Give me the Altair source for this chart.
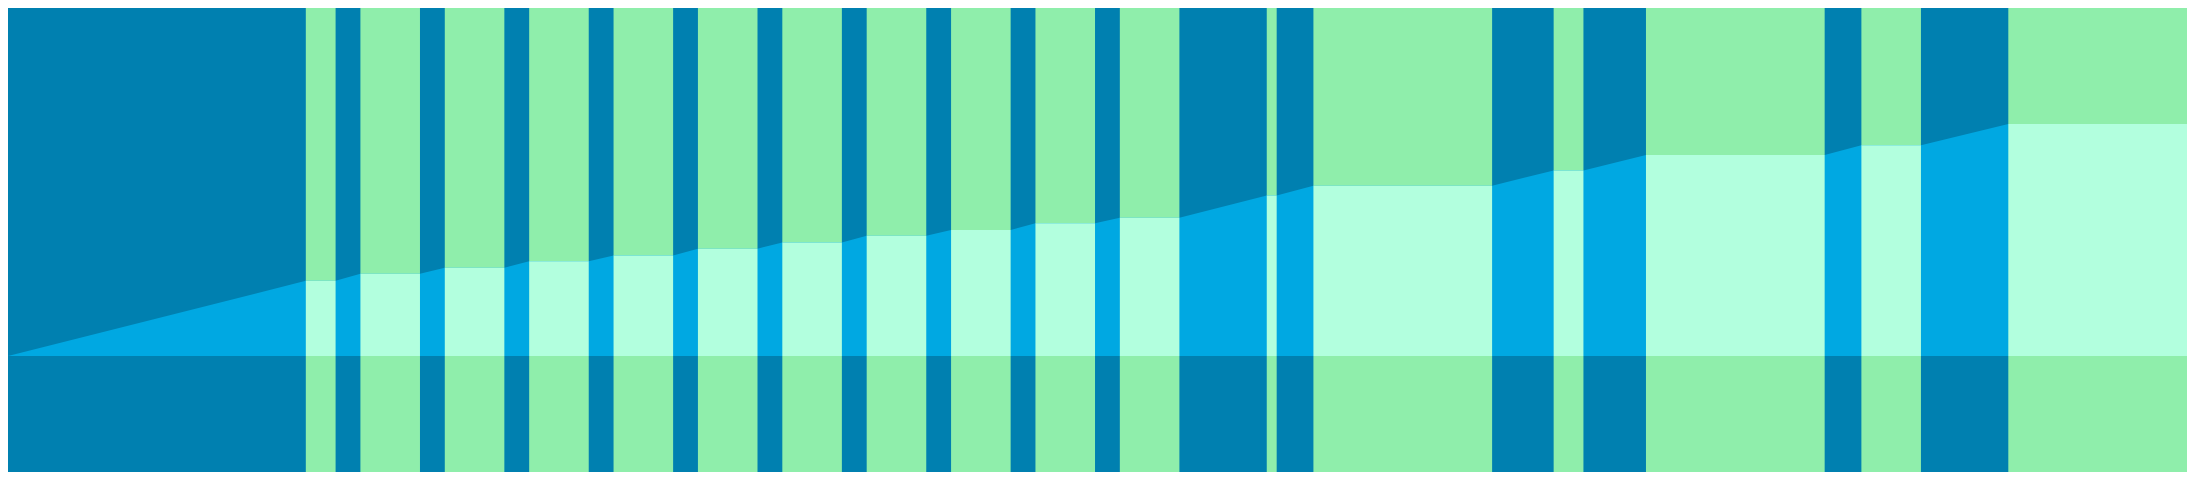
import altair as alt
import pandas as pd

# Band (green period) boundaries along x
band_start = [300, 355, 440, 525, 610, 695, 780, 865, 950, 1035, 1120, 1268, 1315, 1557, 1650, 1867, 2015]
band_end = [330, 415, 500, 585, 670, 755, 840, 925, 1010, 1095, 1180, 1278, 1495, 1587, 1830, 1927, 2195]
# Cumulative level held during each band
band_level = [0.648, 0.708, 0.761, 0.817, 0.867, 0.925, 0.978, 1.036, 1.086, 1.144,
              1.192, 1.383, 1.467, 1.600, 1.733, 1.817, 2.000]

X_MIN, X_MAX = 0, 2195
Y_MIN, Y_MAX = -1, 3

bands = pd.DataFrame({"start": band_start, "end": band_end, "level": band_level, "zero": 0.0})

# area outline: starts at zero, flat across each band, rising between bands
ax, ay = [X_MIN], [0.0]
for s, e, lv in zip(band_start, band_end, band_level):
    ax += [s, e]
    ay += [lv, lv]
area_df = pd.DataFrame({"x": ax, "y": ay})

xs = alt.Scale(domain=[X_MIN, X_MAX], nice=False, zero=False)
ys = alt.Scale(domain=[Y_MIN, Y_MAX], nice=False, zero=False)

green = alt.Chart(bands).mark_rect(color="#8FEEAB").encode(
    x=alt.X("start:Q", scale=xs, axis=None),
    x2="end:Q",
    y=alt.Y(datum=Y_MAX, scale=ys, axis=None),
    y2=alt.datum(Y_MIN),
)

area = alt.Chart(area_df).mark_area(color="#00A8E2", interpolate="linear").encode(
    x=alt.X("x:Q", scale=xs, axis=None),
    y=alt.Y("y:Q", scale=ys, axis=None),
    y2=alt.datum(0),
)

mint = alt.Chart(bands).mark_rect(color="#B2FFDE").encode(
    x=alt.X("start:Q", scale=xs, axis=None),
    x2="end:Q",
    y=alt.Y("zero:Q", scale=ys, axis=None),
    y2="level:Q",
)

chart = alt.layer(green, area, mint).properties(
    width=2179,
    height=464,
    padding=0,
    background="#0080B0",
    autosize=alt.AutoSizeParams(type="fit", contains="padding"),
).configure_view(stroke=None, fill="#0080B0")

chart.save("out.html", embed_options={"renderer": "svg", "actions": False})
